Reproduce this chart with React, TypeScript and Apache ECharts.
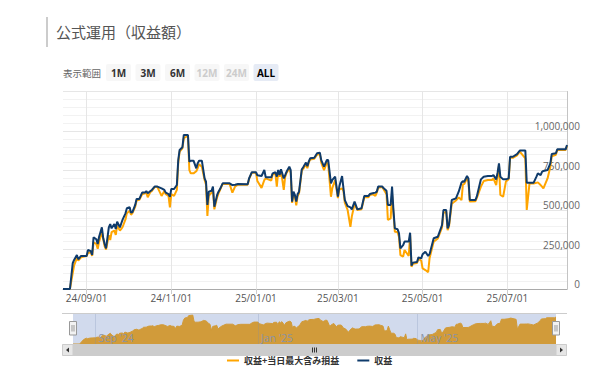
import { useEffect, useRef } from 'react';
import * as echarts from 'echarts';

// ---------- data ----------
const dates = [
  '2024-08-15','2024-08-20','2024-08-22','2024-08-23','2024-08-25','2024-08-26','2024-08-28','2024-08-30',
  '2024-09-01','2024-09-02','2024-09-04','2024-09-05','2024-09-06','2024-09-08','2024-09-09','2024-09-10',
  '2024-09-12','2024-09-13','2024-09-14','2024-09-15','2024-09-17','2024-09-18','2024-09-19','2024-09-21',
  '2024-09-22','2024-09-23','2024-09-25','2024-09-26','2024-09-27','2024-09-29','2024-09-30','2024-10-02',
  '2024-10-03','2024-10-04','2024-10-06','2024-10-07','2024-10-09','2024-10-11','2024-10-13','2024-10-14',
  '2024-10-15','2024-10-17','2024-10-18','2024-10-20','2024-10-22','2024-10-25','2024-10-27','2024-10-28',
  '2024-10-30','2024-10-31','2024-11-01','2024-11-03','2024-11-05','2024-11-06','2024-11-07','2024-11-09',
  '2024-11-10','2024-11-13','2024-11-14','2024-11-15','2024-11-17','2024-11-19','2024-11-20','2024-11-21',
  '2024-11-23','2024-11-25','2024-11-26','2024-11-27','2024-11-28','2024-11-30','2024-12-01','2024-12-02',
  '2024-12-04','2024-12-05','2024-12-06','2024-12-08','2024-12-13','2024-12-15','2024-12-17','2024-12-19',
  '2024-12-26','2024-12-27','2024-12-29','2025-01-01','2025-01-02','2025-01-05','2025-01-07','2025-01-08',
  '2025-01-12','2025-01-13','2025-01-15','2025-01-16','2025-01-17','2025-01-18','2025-01-19','2025-01-21',
  '2025-01-22','2025-01-23','2025-01-25','2025-01-26','2025-01-27','2025-01-28','2025-01-29','2025-01-30',
  '2025-01-31','2025-02-01','2025-02-03','2025-02-04','2025-02-06','2025-02-07','2025-02-08','2025-02-09',
  '2025-02-12','2025-02-14','2025-02-16','2025-02-17','2025-02-19','2025-02-21','2025-02-22','2025-02-24',
  '2025-02-25','2025-02-27','2025-03-01','2025-03-02','2025-03-04','2025-03-05','2025-03-06','2025-03-08',
  '2025-03-10','2025-03-11','2025-03-13','2025-03-15','2025-03-18','2025-03-20','2025-03-23','2025-03-24',
  '2025-03-26','2025-03-28','2025-03-29','2025-03-30','2025-04-02','2025-04-03','2025-04-05','2025-04-06',
  '2025-04-08','2025-04-09','2025-04-10','2025-04-11','2025-04-13','2025-04-14','2025-04-15','2025-04-17',
  '2025-04-18','2025-04-21','2025-04-22','2025-04-23','2025-04-24','2025-04-27','2025-04-28','2025-04-30',
  '2025-05-01','2025-05-03','2025-05-05','2025-05-06','2025-05-09','2025-05-12','2025-05-15','2025-05-16',
  '2025-05-18','2025-05-19','2025-05-20','2025-05-22','2025-05-25','2025-05-27','2025-05-29','2025-05-30',
  '2025-05-31','2025-06-02','2025-06-03','2025-06-04','2025-06-08','2025-06-09','2025-06-12','2025-06-14',
  '2025-06-17','2025-06-20','2025-06-21','2025-06-23','2025-06-24','2025-06-25','2025-06-26','2025-06-28',
  '2025-06-30','2025-07-02','2025-07-03','2025-07-05','2025-07-08','2025-07-10','2025-07-14','2025-07-15',
  '2025-07-17','2025-07-20','2025-07-22','2025-07-23','2025-07-25','2025-07-26','2025-07-27','2025-07-30',
  '2025-08-01','2025-08-02','2025-08-05','2025-08-06','2025-08-12','2025-08-13',
];

// 収益
const profit = [
  0,0,163000,184000,215000,188000,209000,209000,
  209000,247000,240000,215000,327000,315000,285000,331000,
  390000,321000,285000,257000,390000,411000,384000,411000,
  380000,426000,390000,416000,441000,479000,511000,517000,
  483000,487000,532000,570000,570000,610000,610000,620000,
  606000,620000,627000,648000,648000,637000,627000,610000,
  601000,584000,633000,633000,658000,816000,880000,897000,
  975000,975000,806000,812000,812000,764000,795000,812000,
  812000,700000,679000,532000,616000,622000,648000,521000,
  595000,616000,631000,669000,669000,658000,660000,665000,
  663000,700000,739000,739000,720000,715000,753000,707000,
  707000,732000,739000,711000,753000,721000,758000,700000,
  720000,742000,774000,753000,553000,616000,595000,553000,
  601000,616000,758000,770000,800000,778000,806000,827000,
  831000,859000,863000,816000,774000,816000,816000,669000,
  690000,711000,584000,648000,715000,637000,563000,525000,
  517000,504000,553000,504000,511000,589000,589000,601000,
  606000,610000,616000,648000,648000,637000,622000,532000,
  532000,648000,500000,384000,378000,352000,257000,278000,
  300000,300000,356000,148000,167000,171000,200000,194000,
  220000,236000,209000,220000,321000,331000,405000,500000,
  500000,384000,405000,563000,574000,616000,673000,683000,
  679000,715000,700000,563000,563000,584000,694000,711000,
  715000,715000,721000,694000,736000,795000,711000,694000,
  694000,700000,837000,837000,854000,876000,876000,673000,
  673000,673000,711000,732000,721000,742000,747000,753000,
  795000,854000,859000,884000,884000,911000,
];

// 収益+当日最大含み損益
const profitWithUnrealized = [
  0,0,101000,150000,195000,180000,200000,205000,
  209000,228000,232000,210000,295000,285000,255000,300000,
  360000,315000,270000,250000,340000,310000,360000,370000,
  342000,400000,370000,380000,394000,440000,480000,495000,
  470000,480000,520000,560000,565000,600000,605000,612000,
  580000,615000,620000,645000,645000,589000,620000,600000,
  590000,517000,600000,589000,627000,800000,870000,890000,
  954000,970000,753000,732000,732000,745000,764000,790000,
  774000,690000,660000,462000,590000,610000,630000,504000,
  580000,605000,625000,665000,665000,610000,650000,660000,
  660000,695000,735000,735000,683000,640000,690000,700000,
  686000,725000,730000,648000,745000,710000,750000,627000,
  710000,735000,765000,734000,545000,600000,585000,530000,
  590000,605000,750000,760000,790000,764000,800000,820000,
  825000,850000,855000,800000,753000,800000,790000,584000,
  640000,690000,575000,630000,637000,620000,545000,500000,
  394000,458000,540000,500000,505000,580000,580000,595000,
  600000,589000,610000,640000,645000,630000,600000,437000,
  447000,600000,480000,363000,360000,330000,215000,205000,
  247000,209000,340000,141000,160000,165000,190000,180000,
  130000,120000,106000,194000,300000,320000,390000,480000,
  490000,373000,395000,540000,560000,580000,563000,660000,
  665000,700000,680000,553000,555000,575000,648000,683000,
  690000,690000,700000,658000,720000,780000,595000,584000,
  680000,695000,830000,830000,845000,870000,827000,500000,
  668000,668000,672000,675000,658000,648000,637000,700000,
  774000,840000,850000,880000,880000,905000,
];

const seriesNames = ['収益+当日最大含み損益', '収益'];
const xTickDates = ['2024-09-01', '2024-11-01', '2025-01-01', '2025-03-01', '2025-05-01', '2025-07-01'];
const navTickDates = ['2024-09-01', '2025-01-01', '2025-05-01'];
const yTicks = [0, 250000, 500000, 750000, 1000000];
const rangeButtons = ['1M', '3M', '6M', '12M', '24M', 'ALL'];
const disabledButtons = ['12M', '24M'];
const selectedButton = 'ALL';
const titleText = '公式運用（収益額）';
const rangeLabel = '表示範囲';
const monthNames = ['Jan', 'Feb', 'Mar', 'Apr', 'May', 'Jun', 'Jul', 'Aug', 'Sep', 'Oct', 'Nov', 'Dec'];

// ---------- helpers ----------
const toTime = (s: string) => {
  const [y, m, d] = s.split('-').map(Number);
  return new Date(y, m - 1, d).getTime();
};
const pad = (n: number) => (n < 10 ? '0' + n : '' + n);

const FONT = "'Open Sans', 'Noto Sans CJK JP', sans-serif";
const JP = "'Noto Sans CJK JP', 'Open Sans', sans-serif";

export default function App() {
  const ref = useRef<HTMLDivElement>(null);

  useEffect(() => {
    if (!ref.current) return;
    const chart = echarts.init(ref.current, null, { renderer: 'svg' });

    const times = dates.map(toTime);
    const blueData = times.map((t, i) => [t, profit[i]]);
    const orangeData = times.map((t, i) => [t, profitWithUnrealized[i]]);
    const xMin = times[0];
    const xMax = times[times.length - 1];
    const xTicks = xTickDates.map(toTime);
    const navTicks = navTickDates.map(toTime);

    const buttonGraphics: any[] = [];
    rangeButtons.forEach((b, i) => {
      const x = 106 + i * 29.5;
      const disabled = disabledButtons.includes(b);
      const selected = b === selectedButton;
      buttonGraphics.push({
        type: 'rect',
        shape: { x, y: 64, width: 25, height: 17, r: 2 },
        style: { fill: selected ? '#e6ebf5' : '#f7f7f7' },
        z: 1,
      });
      buttonGraphics.push({
        type: 'text',
        x: x + 12.5,
        y: 72.5,
        style: {
          text: b,
          fontSize: 10,
          fontWeight: 'bold',
          fontFamily: FONT,
          fill: disabled ? '#cccccc' : selected ? '#000000' : '#333333',
          align: 'center',
          verticalAlign: 'middle',
        },
        z: 2,
      });
    });

    const handle = (cx: number) => ({
      type: 'group',
      z: 20,
      children: [
        { type: 'rect', shape: { x: cx - 3.5, y: 321.5, width: 7, height: 13.5 }, style: { fill: '#f2f2f2', stroke: '#999999', lineWidth: 1 }, z: 20 },
        { type: 'line', shape: { x1: cx - 1, y1: 325, x2: cx - 1, y2: 331.5 }, style: { stroke: '#999999', lineWidth: 1 }, z: 21 },
        { type: 'line', shape: { x1: cx + 1, y1: 325, x2: cx + 1, y2: 331.5 }, style: { stroke: '#999999', lineWidth: 1 }, z: 21 },
      ],
    });

    const dateFmt = (v: number) => {
      const d = new Date(v);
      return pad(d.getFullYear() % 100) + '/' + pad(d.getMonth() + 1) + '/' + pad(d.getDate());
    };
    const navFmt = (v: number) => {
      const d = new Date(v);
      return monthNames[d.getMonth()] + " '" + pad(d.getFullYear() % 100);
    };

    const option: any = {
      animation: false,
      textStyle: { fontFamily: FONT },
      title: {
        text: titleText,
        left: 56,
        top: 24,
        padding: 0,
        textStyle: { fontSize: 15, fontWeight: 'normal', color: '#555555', fontFamily: JP },
      },
      legend: {
        data: seriesNames,
        left: 227,
        top: 356,
        icon: 'rect',
        itemWidth: 12,
        itemHeight: 2,
        itemGap: 18,
        padding: 0,
        textStyle: { fontSize: 9, fontWeight: 'bold', color: '#333333', fontFamily: JP },
      },
      grid: [
        { left: 63, right: 25, top: 91.5, height: 197.5 },
        { left: 73, width: 483, top: 313, height: 31 },
      ],
      xAxis: [
        {
          type: 'value',
          gridIndex: 0,
          min: xMin,
          max: xMax,
          axisLine: { show: true, onZero: false, lineStyle: { color: '#aaaaaa' } },
          axisTick: { show: true, customValues: xTicks, length: 5, lineStyle: { color: '#cccccc' } },
          axisLabel: {
            customValues: xTicks,
            color: '#555555',
            fontSize: 10,
            margin: 4,
            fontFamily: FONT,
            formatter: dateFmt,
          },
          splitLine: { show: true, lineStyle: { color: '#e6e6e6' } },
        },
        {
          type: 'value',
          gridIndex: 1,
          min: xMin,
          max: xMax,
          z: 5,
          axisLine: { show: false, onZero: false },
          axisTick: { show: false, customValues: navTicks },
          axisLabel: {
            customValues: navTicks,
            inside: true,
            align: 'left',
            verticalAlign: 'bottom',
            margin: 1,
            padding: [0, 0, 0, 3],
            color: '#8a93a6',
            fontSize: 10.5,
            fontFamily: FONT,
            formatter: navFmt,
          },
          splitLine: { show: true, lineStyle: { color: 'rgba(120,140,180,0.25)' } },
        },
      ],
      yAxis: [
        {
          type: 'value',
          gridIndex: 0,
          position: 'right',
          min: 0,
          max: 1250000,
          interval: 250000,
          axisLine: { show: true, lineStyle: { color: '#c4c4c4' } },
          axisTick: { show: false },
          axisLabel: {
            customValues: yTicks,
            align: 'right',
            margin: 13,
            verticalAlign: 'bottom',
            lineHeight: 10,
            color: '#666666',
            fontSize: 10,
            fontFamily: FONT,
            formatter: (v: number) => v.toLocaleString('en-US'),
          },
          splitLine: { show: true, lineStyle: { color: '#e6e6e6' } },
          minorTick: { show: false, splitNumber: 5 },
          minorSplitLine: { show: true, lineStyle: { color: '#f2f2f2' } },
        },
        {
          type: 'value',
          gridIndex: 1,
          min: 0,
          max: 1040000,
          show: false,
          splitLine: { show: false },
        },
      ],
      series: [
        {
          name: seriesNames[0],
          type: 'line',
          xAxisIndex: 0,
          yAxisIndex: 0,
          data: orangeData,
          symbol: 'none',
          showSymbol: false,
          lineStyle: { color: '#ffa500', width: 2 },
          itemStyle: { color: '#ffa500' },
          z: 2,
        },
        {
          name: seriesNames[1],
          type: 'line',
          xAxisIndex: 0,
          yAxisIndex: 0,
          data: blueData,
          symbol: 'none',
          showSymbol: false,
          lineStyle: { color: '#0f3b6b', width: 2 },
          itemStyle: { color: '#0f3b6b' },
          z: 3,
        },
        {
          name: 'navigator',
          type: 'line',
          xAxisIndex: 1,
          yAxisIndex: 1,
          data: orangeData,
          symbol: 'none',
          showSymbol: false,
          silent: true,
          lineStyle: { color: '#d19b3a', width: 1 },
          areaStyle: { color: '#d19b3a', opacity: 1 },
          z: 2,
        },
      ],
      graphic: [
        { type: 'rect', shape: { x: 46, y: 17, width: 2, height: 30 }, style: { fill: '#cccccc' }, z: 1 },
        {
          type: 'text',
          x: 63,
          y: 72.5,
          style: { text: rangeLabel, fontSize: 9.5, fill: '#666666', fontFamily: JP, verticalAlign: 'middle' },
          z: 1,
        },
        ...buttonGraphics,
        { type: 'rect', shape: { x: 73, y: 313, width: 483, height: 31 }, style: { fill: '#d1daed' }, z: -1 },
        { type: 'line', shape: { x1: 62, y1: 313.5, x2: 567, y2: 313.5 }, style: { stroke: '#cccccc', lineWidth: 1 }, z: 10 },
        handle(73),
        handle(556),
        { type: 'rect', shape: { x: 62, y: 344, width: 505, height: 12 }, style: { fill: '#f2f2f2' }, z: 10 },
        { type: 'rect', shape: { x: 73, y: 344, width: 483, height: 12 }, style: { fill: '#cccccc' }, z: 11 },
        { type: 'line', shape: { x1: 312.5, y1: 347.5, x2: 312.5, y2: 352.5 }, style: { stroke: '#333333', lineWidth: 1 }, z: 12 },
        { type: 'line', shape: { x1: 314.5, y1: 347.5, x2: 314.5, y2: 352.5 }, style: { stroke: '#333333', lineWidth: 1 }, z: 12 },
        { type: 'line', shape: { x1: 316.5, y1: 347.5, x2: 316.5, y2: 352.5 }, style: { stroke: '#333333', lineWidth: 1 }, z: 12 },
        { type: 'rect', shape: { x: 62.5, y: 344.5, width: 10.5, height: 11 }, style: { fill: '#e6e6e6', stroke: '#cccccc', lineWidth: 1 }, z: 12 },
        { type: 'polygon', shape: { points: [[66, 350], [69, 347.5], [69, 352.5]] }, style: { fill: '#333333' }, z: 13 },
        { type: 'rect', shape: { x: 556, y: 344.5, width: 10.5, height: 11 }, style: { fill: '#e6e6e6', stroke: '#cccccc', lineWidth: 1 }, z: 12 },
        { type: 'polygon', shape: { points: [[563, 350], [560, 347.5], [560, 352.5]] }, style: { fill: '#333333' }, z: 13 },
      ],
    };

    chart.setOption(option);
    return () => chart.dispose();
  }, []);

  return (
    <div
      ref={ref}
      style={{ position: 'absolute', left: 0, top: 0, width: 592, height: 380, background: '#ffffff' }}
    />
  );
}
